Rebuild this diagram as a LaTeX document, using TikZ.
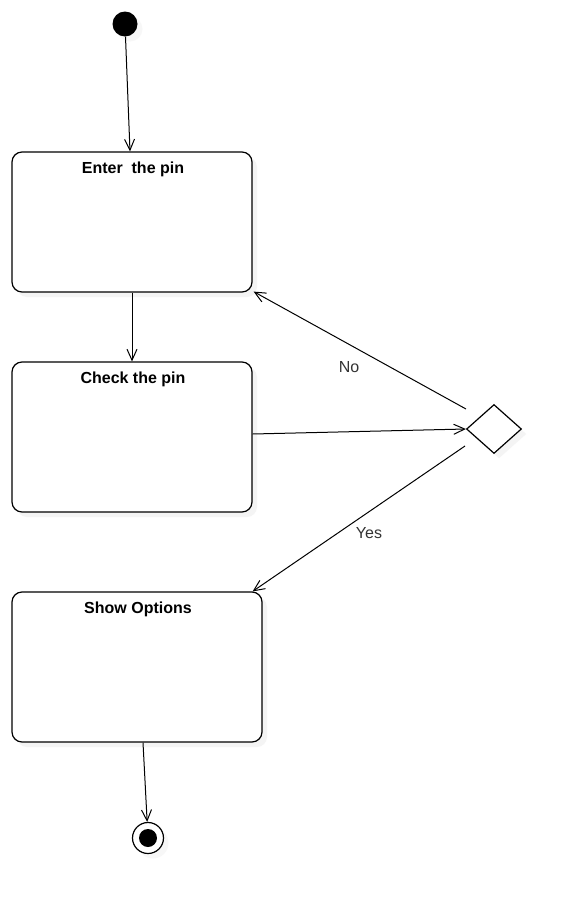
\documentclass[tikz,border=0pt]{standalone}
\usepackage{fontspec}
\setmainfont{Liberation Sans}
\usetikzlibrary{arrows.meta,shapes.geometric,shadows}
\begin{document}
\begin{tikzpicture}[x=1pt,y=-1pt,
  statebox/.style={draw, rounded corners=10pt, line width=1.2pt, fill=white, inner sep=0pt,
    drop shadow={shadow xshift=5pt, shadow yshift=-5pt, fill=black!8}},
  titletext/.style={font=\bfseries\fontsize{16}{18}\selectfont, inner sep=0pt},
  guardtext/.style={font=\fontsize{16}{18}\selectfont, inner sep=0pt, text=black!80},
  flow/.style={-{Straight Barb[length=11pt,width=10pt,line width=1pt]}, line width=1pt},
  decision/.style={diamond, draw, line width=1.2pt, fill=white, inner sep=0pt, aspect=1.1,
    minimum width=55pt, minimum height=49pt,
    drop shadow={shadow xshift=5pt, shadow yshift=-5pt, fill=black!8}},
  initstate/.style={circle, fill=black, inner sep=0pt, minimum size=25pt,
    drop shadow={shadow xshift=5pt, shadow yshift=-5pt, fill=black!6}},
  finalstate/.style={circle, draw, line width=1.2pt, fill=white, inner sep=0pt, minimum size=31pt,
    drop shadow={shadow xshift=5pt, shadow yshift=-5pt, fill=black!6}},
  finaldot/.style={circle, fill=black, inner sep=0pt, minimum size=18pt}
]
\useasboundingbox[fill=white] (0,0) rectangle (572,905);

% initial state
\node[initstate] (start) at (125,24) {};

% states
\node[statebox, minimum width=240pt, minimum height=140pt] (enter) at (132,222) {};
\node[titletext] (entertitle) at (133,169.5) {Enter\ \ the pin};

\node[statebox, minimum width=240pt, minimum height=150pt] (check) at (132,437) {};
\node[titletext] (checktitle) at (133,379.5) {Check the pin};

\node[statebox, minimum width=250pt, minimum height=150pt] (show) at (137,667) {};
\node[titletext] (showtitle) at (138,609.5) {Show Options};

% decision
\node[decision] (dia) at (494,429) {};

% final state
\node[finalstate] (end) at (148,838) {};
\node[finaldot] (enddot) at (148,838) {};

% guard labels
\node[guardtext] (nolabel) at (349,367) {No};
\node[guardtext] (yeslabel) at (369,533) {Yes};

% connectors
\draw[flow] (start) -- ([xshift=-2pt]enter.north);
\draw[flow] (enter.south) -- (check.north);
\draw[flow] ([yshift=3pt]check.east) -- (dia.west);
\draw[flow] ([xshift=-28pt,yshift=20pt]dia.center) -- ([xshift=1pt,yshift=1pt]enter.south east);
\draw[flow] ([xshift=-29pt,yshift=-17pt]dia.center) -- ([xshift=-10pt]show.north east);
\draw[flow] ([xshift=6pt]show.south) -- (end);
\end{tikzpicture}
\end{document}
